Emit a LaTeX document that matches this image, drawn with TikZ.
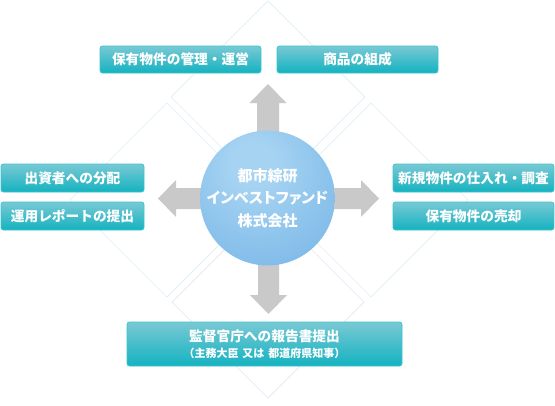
\documentclass[tikz,border=0pt]{standalone}
\usepackage{fontspec}
\setmainfont{Noto Sans CJK JP}
\newfontfamily\jpp{Noto Sans CJK JP}[RawFeature=+palt]
\usetikzlibrary{calc}
\definecolor{boxtop}{HTML}{78C9D4}
\definecolor{boxbot}{HTML}{14B2C0}
\definecolor{boxline}{HTML}{3FC3CE}
\definecolor{arrowgray}{HTML}{C9C9C9}
\definecolor{diamA}{HTML}{DCEFF5}
\definecolor{diamB}{HTML}{E3E3F5}
\definecolor{circin}{HTML}{A6D3F2}
\definecolor{circmid}{HTML}{84BEEA}
\definecolor{circout}{HTML}{5499D6}
\pgfdeclareradialshading{ballsh}{\pgfpoint{-6bp}{14bp}}{color(0bp)=(circin); color(8bp)=(circin); color(32bp)=(circmid); color(62bp)=(circout); color(80bp)=(circout)}
\tikzset{
  box/.style={draw=boxline, line width=0.8pt, rounded corners=2.5pt,
    top color=boxtop, bottom color=boxbot, text=white, inner sep=0pt,
    font=\bfseries\fontsize{13.7}{16}\selectfont},
  diam/.style={draw=diamA, line width=0.7pt},
  diamb/.style={draw=diamB, line width=0.7pt},
  blockarrow/.style={fill=arrowgray, draw=none},
}
\begin{document}
\begin{tikzpicture}[x=1pt,y=-1pt]
\useasboundingbox (0,0) rectangle (555,405);
% background diamonds
\draw[diam] (268,1) -- (365,97) -- (268,194) -- (171,97) -- cycle;
\draw[diam] (167,103) -- (264,200) -- (167,297) -- (70,200) -- cycle;
\draw[diam] (371,103) -- (468,200) -- (371,297) -- (274,200) -- cycle;
\draw[diamb] (268,206) -- (364,302) -- (268,398) -- (172,302) -- cycle;
% block arrows
\fill[blockarrow] (257,140) -- (257,103) -- (249.5,103) -- (268,84) -- (286.5,103) -- (279,103) -- (279,140) -- cycle;
\fill[blockarrow] (258,255) -- (258,295) -- (250,295) -- (268.5,314) -- (287,295) -- (279,295) -- (279,255) -- cycle;
\fill[blockarrow] (215,188) -- (176,188) -- (176,180) -- (158,198.5) -- (176,217) -- (176,209) -- (215,209) -- cycle;
\fill[blockarrow] (320,188) -- (361,188) -- (361,180) -- (379,198.5) -- (361,217) -- (361,209) -- (320,209) -- cycle;
% centre circle
\node[circle, minimum size=131pt, inner sep=0pt, shading=ballsh, text=white,
  align=center, font=\jpp\bfseries\fontsize{15}{22.5}\selectfont] (c) at (267.5,198)
  {都市綜研\\インベストファンド\\株式会社};
% boxes
\node[box, minimum width=161pt, minimum height=27pt] (t1) at (180.5,59.5) {保有物件の管理・運営};
\node[box, minimum width=161pt, minimum height=27pt] (t2) at (357.5,59.5) {商品の組成};
\node[box, minimum width=143pt, minimum height=28pt] (l1) at (72.5,178) {出資者への分配};
\node[box, minimum width=143pt, minimum height=28pt] (l2) at (72.5,216) {運用レポートの提出};
\node[box, minimum width=161pt, minimum height=28pt] (r1) at (473.5,178) {新規物件の仕入れ・調査};
\node[box, minimum width=161pt, minimum height=28pt] (r2) at (473.5,216) {保有物件の売却};
\node[box, minimum width=275pt, minimum height=44pt, align=center] (b) at (264.5,344)
  {\fontsize{13.7}{16}\selectfont 監督官庁への報告書提出\\[0pt]
   {\fontsize{11}{13}\selectfont （主務大臣\hspace{4pt}又は\hspace{4pt}都道府県知事）}};
\end{tikzpicture}
\end{document}
